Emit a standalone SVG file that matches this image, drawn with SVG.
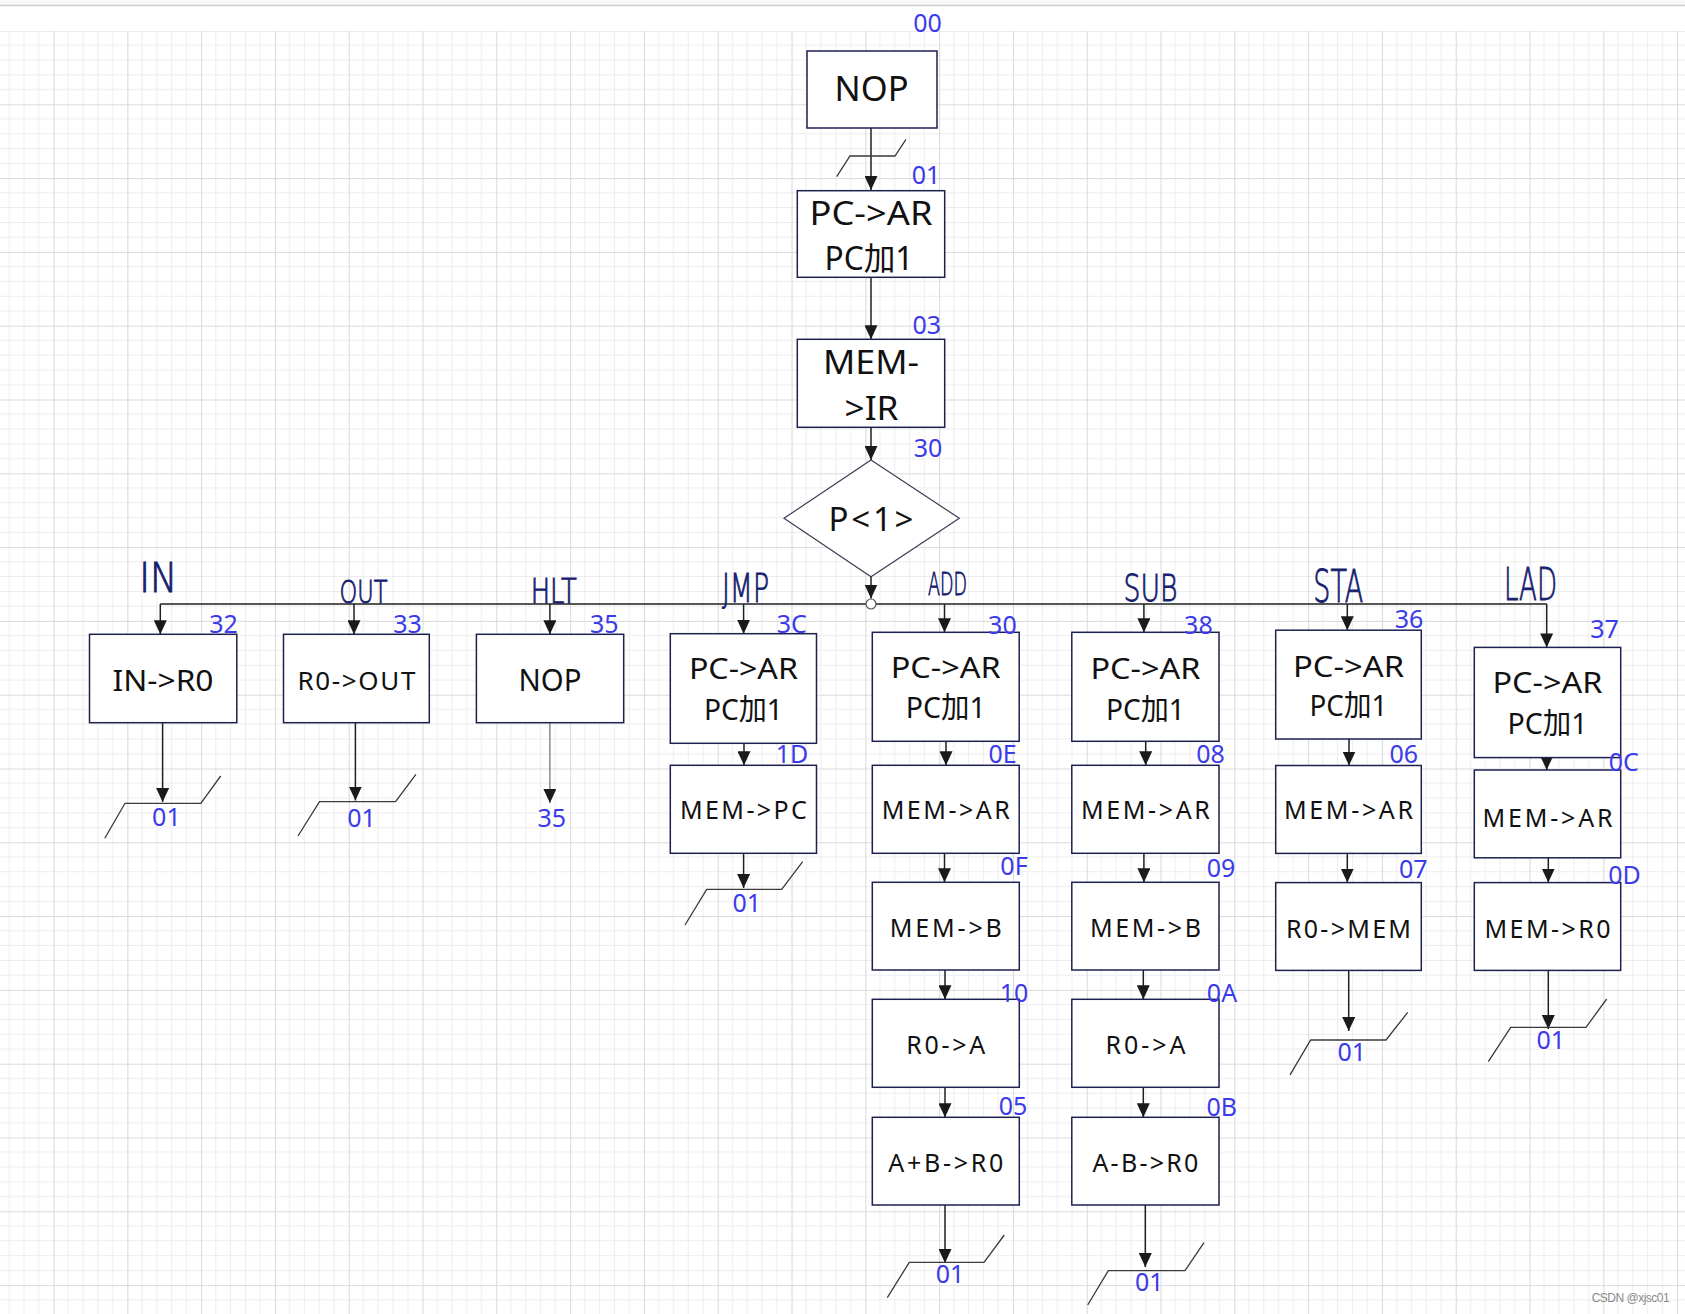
<svg xmlns="http://www.w3.org/2000/svg" width="1685" height="1314" viewBox="0 0 1685 1314">
<defs>
<pattern id="grid" patternUnits="userSpaceOnUse" x="53.5" y="30.5" width="73.8" height="73.8">
<path d="M14.76 0V73.8M29.52 0V73.8M44.28 0V73.8M59.04 0V73.8M0 14.76H73.8M0 29.52H73.8M0 44.28H73.8M0 59.04H73.8" stroke="#ededed" stroke-width="1" fill="none"/>
<path d="M0.5 0V73.8M0 0.5H73.8" stroke="#dadada" stroke-width="1.2" fill="none"/>
</pattern>
<marker id="arr" markerUnits="userSpaceOnUse" markerWidth="14" markerHeight="13" refX="14" refY="6.5" orient="auto" viewBox="0 0 14 13">
<path d="M0,0 L14,6.5 L0,13 z" fill="#1a1a1a"/>
</marker>
</defs>
<style>
.box{fill:#fff;stroke:#1c2150;stroke-width:1.5}
.dia{fill:#fff;stroke:#3a3d55;stroke-width:1.2}
.t{font-family:"Noto Sans","Noto Sans CJK SC",sans-serif;fill:#111;text-anchor:middle}
.lb{font-family:"Noto Sans",sans-serif;font-size:25px;fill:#3b3bea;text-anchor:middle}
.hw{font-family:"DejaVu Sans",sans-serif;font-weight:200;fill:#15206f;stroke:#15206f;stroke-width:0.9}
.c{stroke:#1f1f1f;stroke-width:1.5;fill:none}
.cg{stroke:#777;stroke-width:1.3;fill:none}
.brk{stroke:#3a3a3a;stroke-width:1.3;fill:none}
</style>
<rect x="0" y="0" width="1685" height="1314" fill="#fff"/>
<rect x="0" y="0" width="1685" height="5" fill="#f7f7f7"/>
<line x1="0" y1="5.5" x2="1685" y2="5.5" stroke="#cdcdcd" stroke-width="1.5"/>
<rect x="0" y="31" width="1685" height="1283" fill="url(#grid)"/>

<g id="connectors">
<line class="c" x1="871" y1="128" x2="871" y2="190" marker-end="url(#arr)"/>
<line class="c" x1="871" y1="277.3" x2="871" y2="339.3" marker-end="url(#arr)"/>
<line class="c" x1="871" y1="427.3" x2="871" y2="460" marker-end="url(#arr)"/>
<line class="c" x1="871" y1="576.7" x2="871" y2="598.5" marker-end="url(#arr)"/>
<line class="c" x1="160.3" y1="604" x2="1546.7" y2="604"/>
<line class="c" x1="160.3" y1="604" x2="160.3" y2="634.3" marker-end="url(#arr)"/>
<line class="c" x1="354" y1="604" x2="354" y2="634.3" marker-end="url(#arr)"/>
<line class="c" x1="549.9" y1="604" x2="549.9" y2="634.3" marker-end="url(#arr)"/>
<line class="c" x1="743.6" y1="604" x2="743.6" y2="633.7" marker-end="url(#arr)"/>
<line class="c" x1="944.5" y1="604" x2="944.5" y2="632.3" marker-end="url(#arr)"/>
<line class="c" x1="1143.9" y1="604" x2="1143.9" y2="632.3" marker-end="url(#arr)"/>
<line class="c" x1="1347.3" y1="604" x2="1347.3" y2="630.2" marker-end="url(#arr)"/>
<line class="c" x1="1546.7" y1="604" x2="1546.7" y2="647.4" marker-end="url(#arr)"/>
<circle cx="871" cy="604" r="5" fill="#fff" stroke="#555" stroke-width="1.2"/>

<line class="c" x1="162.6" y1="722.7" x2="162.6" y2="802" marker-end="url(#arr)"/>
<line class="c" x1="355.4" y1="722.7" x2="355.4" y2="800.5" marker-end="url(#arr)"/>
<line class="cg" x1="549.9" y1="722.7" x2="549.9" y2="803" marker-end="url(#arr)"/>

<line class="c" x1="744" y1="743.3" x2="744" y2="765.3" marker-end="url(#arr)"/>
<line class="c" x1="743.6" y1="853.3" x2="743.6" y2="888" marker-end="url(#arr)"/>

<line class="c" x1="946" y1="741.3" x2="946" y2="765.3" marker-end="url(#arr)"/>
<line class="c" x1="944.5" y1="853.3" x2="944.5" y2="882.3" marker-end="url(#arr)"/>
<line class="c" x1="945" y1="970" x2="945" y2="999.3" marker-end="url(#arr)"/>
<line class="c" x1="945" y1="1087.3" x2="945" y2="1117.3" marker-end="url(#arr)"/>
<line class="c" x1="945" y1="1205" x2="945" y2="1263" marker-end="url(#arr)"/>

<line class="c" x1="1145.7" y1="741.3" x2="1145.7" y2="765.3" marker-end="url(#arr)"/>
<line class="c" x1="1143.9" y1="853.3" x2="1143.9" y2="882.3" marker-end="url(#arr)"/>
<line class="c" x1="1143.3" y1="970" x2="1143.3" y2="999.3" marker-end="url(#arr)"/>
<line class="c" x1="1143.3" y1="1087.3" x2="1143.3" y2="1117.3" marker-end="url(#arr)"/>
<line class="c" x1="1145.3" y1="1205" x2="1145.3" y2="1267" marker-end="url(#arr)"/>

<line class="c" x1="1349" y1="739" x2="1349" y2="765.5" marker-end="url(#arr)"/>
<line class="c" x1="1347.3" y1="853.4" x2="1347.3" y2="882.6" marker-end="url(#arr)"/>
<line class="c" x1="1348.7" y1="970.4" x2="1348.7" y2="1031" marker-end="url(#arr)"/>

<line class="c" x1="1546.7" y1="757.6" x2="1546.7" y2="770" marker-end="url(#arr)"/>
<line class="c" x1="1548.3" y1="857.8" x2="1548.3" y2="882.6" marker-end="url(#arr)"/>
<line class="c" x1="1548.3" y1="970.4" x2="1548.3" y2="1029" marker-end="url(#arr)"/>

<polyline class="brk" points="836.7,176.7 850,156 895,156 906,139.3"/>
<polyline class="brk" points="104.8,838.3 125,803.3 200.8,803.3 220.7,776"/>
<polyline class="brk" points="298,836 319.5,801.7 395.6,801.7 415.9,774.3"/>
<polyline class="brk" points="685,925 706.7,889.3 781.7,889.3 802.7,861.7"/>
<polyline class="brk" points="887.3,1297.7 909.3,1262.3 984,1262.3 1004.3,1235"/>
<polyline class="brk" points="1087.7,1305 1108.3,1270.7 1185,1270.7 1204,1242.7"/>
<polyline class="brk" points="1290,1074.8 1310.7,1040 1386,1040 1407.7,1012.4"/>
<polyline class="brk" points="1488.3,1061.7 1510.7,1027.3 1586,1027.3 1606.7,999"/>
</g>

<g id="n-start">
<rect class="box" x="807" y="51" width="130" height="77"/>
<text class="t" x="871.5" y="101" font-size="34" textLength="74" lengthAdjust="spacingAndGlyphs">NOP</text>
<text class="lb" x="927.5" y="31.5">00</text>
</g>
<g id="n-fetch1">
<rect class="box" x="797.3" y="190.7" width="147.4" height="86.6"/>
<text class="t" x="871" y="225" font-size="32" textLength="123" lengthAdjust="spacingAndGlyphs">PC-&gt;AR</text>
<text class="t" x="869" y="270" font-size="32" textLength="89" lengthAdjust="spacingAndGlyphs">PC加1</text>
<text class="lb" x="926" y="184">01</text>
</g>
<g id="n-fetch2">
<rect class="box" x="797.3" y="339.3" width="147.4" height="88"/>
<text class="t" x="871" y="374" font-size="32" textLength="96" lengthAdjust="spacingAndGlyphs">MEM-</text>
<text class="t" x="871.5" y="420" font-size="32" textLength="54" lengthAdjust="spacingAndGlyphs">&gt;IR</text>
<text class="lb" x="926.7" y="334">03</text>
</g>
<g id="n-decide">
<polygon class="dia" points="871,460 959.3,518.3 871,576.7 784,518.3"/>
<text class="t" x="871" y="530.7" font-size="33" textLength="85">P&lt;1&gt;</text>
<text class="lb" x="928" y="457">30</text>
</g>

<g id="lbl-ops">
<text class="hw" x="139.3" y="591.7" font-size="40" textLength="38" lengthAdjust="spacingAndGlyphs">IN</text>
<text class="hw" x="339.4" y="603.3" font-size="32" textLength="48" lengthAdjust="spacingAndGlyphs">OUT</text>
<text class="hw" x="530.7" y="603.3" font-size="34" textLength="46" lengthAdjust="spacingAndGlyphs">HLT</text>
<text class="hw" x="722" y="601.7" font-size="39" textLength="47" lengthAdjust="spacingAndGlyphs">JMP</text>
<text class="hw" x="928" y="595" font-size="32" textLength="39" lengthAdjust="spacingAndGlyphs">ADD</text>
<text class="hw" x="1123.5" y="601" font-size="38" textLength="54" lengthAdjust="spacingAndGlyphs">SUB</text>
<text class="hw" x="1313.3" y="602" font-size="45" textLength="50" lengthAdjust="spacingAndGlyphs">STA</text>
<text class="hw" x="1504" y="600.3" font-size="45" textLength="53" lengthAdjust="spacingAndGlyphs">LAD</text>
</g>

<g id="n-in">
<rect class="box" x="89.5" y="634.3" width="147.3" height="88.4"/>
<text class="t" x="163" y="690.7" font-size="29" textLength="101" lengthAdjust="spacingAndGlyphs">IN-&gt;R0</text>
<text class="lb" x="223.5" y="633">32</text>
<text class="lb" x="166.4" y="825.7">01</text>
</g>
<g id="n-out">
<rect class="box" x="283.5" y="634.3" width="145.8" height="88.4"/>
<text class="t" x="356.4" y="690" font-size="26" textLength="118">R0-&gt;OUT</text>
<text class="lb" x="407.5" y="633">33</text>
<text class="lb" x="361.6" y="827.3">01</text>
</g>
<g id="n-hlt">
<rect class="box" x="476.4" y="634.3" width="147.3" height="88.4"/>
<text class="t" x="550" y="690.7" font-size="31" textLength="63" lengthAdjust="spacingAndGlyphs">NOP</text>
<text class="lb" x="604.2" y="633">35</text>
<text class="lb" x="551.8" y="827.3">35</text>
</g>

<g id="n-jmp1">
<rect class="box" x="670.3" y="633.7" width="146.2" height="109.6"/>
<text class="t" x="743.4" y="679.3" font-size="29" textLength="109" lengthAdjust="spacingAndGlyphs">PC-&gt;AR</text>
<text class="t" x="743.4" y="720" font-size="29" textLength="79" lengthAdjust="spacingAndGlyphs">PC加1</text>
<text class="lb" x="791.7" y="632.7">3C</text>
</g>
<g id="n-jmp2">
<rect class="box" x="670.3" y="765.3" width="146.2" height="88"/>
<text class="t" x="743.4" y="819.3" font-size="25" textLength="127">MEM-&gt;PC</text>
<text class="lb" x="792" y="762.7">1D</text>
<text class="lb" x="746.7" y="911.7">01</text>
</g>

<g id="n-add1">
<rect class="box" x="872.3" y="632.3" width="146.9" height="109"/>
<text class="t" x="945.7" y="678.3" font-size="29" textLength="110" lengthAdjust="spacingAndGlyphs">PC-&gt;AR</text>
<text class="t" x="945.7" y="718.3" font-size="29" textLength="80" lengthAdjust="spacingAndGlyphs">PC加1</text>
<text class="lb" x="1002.4" y="634">30</text>
</g>
<g id="n-add2">
<rect class="box" x="872.3" y="765.3" width="146.9" height="88"/>
<text class="t" x="945.7" y="819.3" font-size="25" textLength="128">MEM-&gt;AR</text>
<text class="lb" x="1002.6" y="762.7">0E</text>
</g>
<g id="n-add3">
<rect class="box" x="872.3" y="882.3" width="147" height="87.7"/>
<text class="t" x="945.8" y="937.3" font-size="25" textLength="112">MEM-&gt;B</text>
<text class="lb" x="1014" y="875">0F</text>
</g>
<g id="n-add4">
<rect class="box" x="872.3" y="999.3" width="147" height="88"/>
<text class="t" x="945.8" y="1054.3" font-size="25" textLength="79">R0-&gt;A</text>
<text class="lb" x="1014" y="1001.7">10</text>
</g>
<g id="n-add5">
<rect class="box" x="872.3" y="1117.3" width="147" height="87.7"/>
<text class="t" x="945.8" y="1171.7" font-size="25" textLength="115">A+B-&gt;R0</text>
<text class="lb" x="1013" y="1115">05</text>
<text class="lb" x="950" y="1283.3">01</text>
</g>

<g id="n-sub1">
<rect class="box" x="1071.8" y="632.3" width="147.2" height="109"/>
<text class="t" x="1145.4" y="679.3" font-size="29" textLength="110" lengthAdjust="spacingAndGlyphs">PC-&gt;AR</text>
<text class="t" x="1145.4" y="720" font-size="29" textLength="79" lengthAdjust="spacingAndGlyphs">PC加1</text>
<text class="lb" x="1198.4" y="634">38</text>
</g>
<g id="n-sub2">
<rect class="box" x="1071.8" y="765.3" width="147.2" height="88"/>
<text class="t" x="1145.4" y="819.3" font-size="25" textLength="129">MEM-&gt;AR</text>
<text class="lb" x="1210.5" y="762.7">08</text>
</g>
<g id="n-sub3">
<rect class="box" x="1071.8" y="882.3" width="147.2" height="87.7"/>
<text class="t" x="1145.4" y="937.3" font-size="25" textLength="111">MEM-&gt;B</text>
<text class="lb" x="1221" y="876.7">09</text>
</g>
<g id="n-sub4">
<rect class="box" x="1071.8" y="999.3" width="147.2" height="88"/>
<text class="t" x="1145.4" y="1054.3" font-size="25" textLength="80">R0-&gt;A</text>
<text class="lb" x="1222" y="1001.7">0A</text>
</g>
<g id="n-sub5">
<rect class="box" x="1071.8" y="1117.3" width="147.2" height="87.7"/>
<text class="t" x="1145.4" y="1171.7" font-size="25" textLength="106">A-B-&gt;R0</text>
<text class="lb" x="1221.7" y="1116">0B</text>
<text class="lb" x="1149.3" y="1290.7">01</text>
</g>

<g id="n-sta1">
<rect class="box" x="1275.7" y="630.2" width="145.6" height="108.8"/>
<text class="t" x="1348.5" y="677" font-size="29" textLength="111" lengthAdjust="spacingAndGlyphs">PC-&gt;AR</text>
<text class="t" x="1348.5" y="715.6" font-size="29" textLength="78" lengthAdjust="spacingAndGlyphs">PC加1</text>
<text class="lb" x="1409" y="627.8">36</text>
</g>
<g id="n-sta2">
<rect class="box" x="1275.7" y="765.5" width="145.6" height="87.9"/>
<text class="t" x="1348.5" y="819" font-size="25" textLength="129">MEM-&gt;AR</text>
<text class="lb" x="1403.8" y="763">06</text>
</g>
<g id="n-sta3">
<rect class="box" x="1275.7" y="882.6" width="145.6" height="87.8"/>
<text class="t" x="1348.5" y="937.7" font-size="25" textLength="125">R0-&gt;MEM</text>
<text class="lb" x="1413.3" y="877.5">07</text>
<text class="lb" x="1351.7" y="1060.6">01</text>
</g>

<g id="n-lad1">
<rect class="box" x="1474.3" y="647.4" width="146.4" height="110.2"/>
<text class="t" x="1547.5" y="693.2" font-size="29" textLength="110" lengthAdjust="spacingAndGlyphs">PC-&gt;AR</text>
<text class="t" x="1547.5" y="733.5" font-size="29" textLength="80" lengthAdjust="spacingAndGlyphs">PC加1</text>
<text class="lb" x="1604.5" y="637.5">37</text>
</g>
<g id="n-lad2">
<rect class="box" x="1474.3" y="770" width="146.4" height="87.8"/>
<text class="t" x="1547.5" y="826.8" font-size="25" textLength="130">MEM-&gt;AR</text>
<text class="lb" x="1623.8" y="770.7">0C</text>
</g>
<g id="n-lad3">
<rect class="box" x="1474.3" y="882.6" width="146.4" height="87.8"/>
<text class="t" x="1547.5" y="937.7" font-size="25" textLength="126">MEM-&gt;R0</text>
<text class="lb" x="1624.5" y="884.4">0D</text>
<text class="lb" x="1550.7" y="1049">01</text>
</g>

<text x="1591.7" y="1301.7" font-family="Liberation Sans, Arial, sans-serif" font-size="12" fill="#8a8a8a" textLength="78">CSDN @xjsc01</text>
</svg>
